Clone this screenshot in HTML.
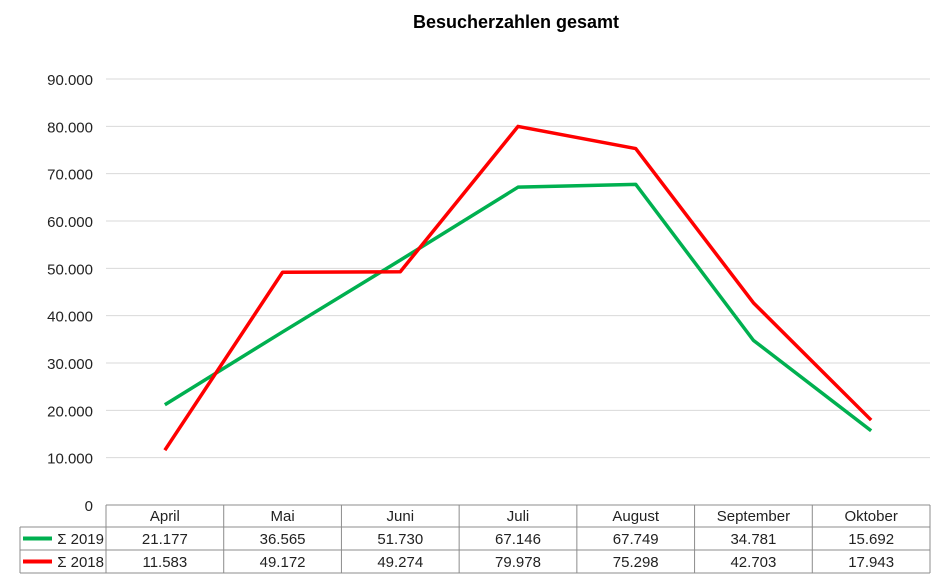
<!DOCTYPE html>
<html><head><meta charset="utf-8"><style>
body{margin:0;background:#fff;}
svg{display:block;font-family:"Liberation Sans",Arial,sans-serif;}
</style></head><body>
<svg id="c" width="949" height="587" viewBox="0 0 949 587" xmlns="http://www.w3.org/2000/svg">
<text x="516" y="28" text-anchor="middle" font-size="18" font-weight="bold">Besucherzahlen gesamt</text>
<g id="grid"></g><g id="table"></g><g id="lines"></g>
</svg>
<script>
const months=["April","Mai","Juni","Juli","August","September","Oktober"];
const s2019=[21177,36565,51730,67146,67749,34781,15692];
const s2018=[11583,49172,49274,79978,75298,42703,17943];
const ticks=[0,10000,20000,30000,40000,50000,60000,70000,80000,90000];
const NS="http://www.w3.org/2000/svg";
const X0=106,X1=930,Y0=505,Y9=79,YMAX=90000;
const cw=(X1-X0)/months.length;
const xs=i=>X0+cw*(i+0.5);
const ys=v=>Y0-(v/YMAX)*(Y0-Y9);
const fmt=v=>v===0?"0":v.toLocaleString("de-DE");
function mk(tag,attrs,parent){const e=document.createElementNS(NS,tag);for(const k in attrs)e.setAttribute(k,attrs[k]);parent.appendChild(e);return e;}
const grid=document.getElementById("grid"),table=document.getElementById("table"),lines=document.getElementById("lines");
ticks.forEach(t=>{
  if(t>0){const l=mk("line",{x1:X0,x2:X1,y1:ys(t),y2:ys(t),stroke:"#d9d9d9","stroke-width":1},grid);
  
  }
  const tx=mk("text",{x:93,y:ys(t)+6,"text-anchor":"end","font-size":15,fill:"#222"},grid);
  
  
  tx.textContent=fmt(t);
});
// table
const rows=[505,527,550,573];
const st={stroke:"#8c8c8c","stroke-width":1};
rows.forEach((r,i)=>{const l=mk("line",Object.assign({x1:i===0?X0:20,x2:X1,y1:r,y2:r},st),table);

});
for(let i=0;i<=months.length;i++){const x=X0+cw*i;const l=mk("line",Object.assign({x1:x,x2:x,y1:505,y2:573},st),table);

}
const lv=mk("line",Object.assign({x1:20,x2:20,y1:527,y2:573},st),table);


months.forEach((m,i)=>{const t=mk("text",{x:xs(i),y:521,"text-anchor":"middle","font-size":15,fill:"#222"},table);


t.textContent=m;});
const series=[{name:"Σ 2019",data:s2019,color:"#00b050",row:527,key:"2019"},{name:"Σ 2018",data:s2018,color:"#ff0000",row:550,key:"2018"}];
series.forEach(s=>{
  const k=mk("line",{x1:23,x2:52,y1:s.row+11.5,y2:s.row+11.5,stroke:s.color,"stroke-width":4},table);
  
  
  const lb=mk("text",{x:104,y:s.row+17,"text-anchor":"end","font-size":15,fill:"#222"},table);
  
  
  lb.textContent=s.name;
  s.data.forEach((v,i)=>{const t=mk("text",{x:xs(i),y:s.row+17,"text-anchor":"middle","font-size":15,fill:"#222"},table);
  
  
  t.textContent=fmt(v);});
  const p=mk("polyline",{points:s.data.map((v,i)=>xs(i)+","+ys(v)).join(" "),fill:"none",stroke:s.color,"stroke-width":3.5,"stroke-linejoin":"round"},lines);
  
  
});
</script>
</body></html>
